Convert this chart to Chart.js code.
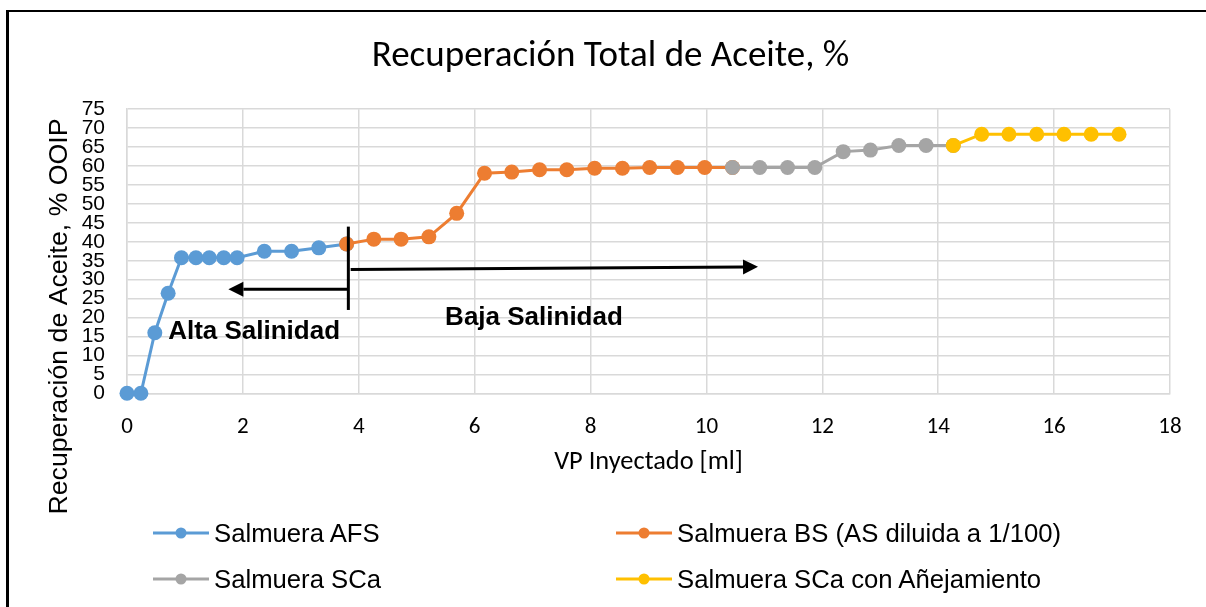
<!DOCTYPE html>
<html><head><meta charset="utf-8">
<script src="https://cdn.jsdelivr.net/npm/chart.js@4.4.0/dist/chart.umd.min.js"></script>
<style>
html,body{margin:0;padding:0;background:#fff;}
#wrap{position:relative;width:1206px;height:607px;overflow:hidden;background:#fff;}
#c{position:absolute;left:0;top:0;}
.leg{position:absolute;display:flex;align-items:center;font-family:"Liberation Sans",Arial,sans-serif;font-size:25.7px;color:#000;white-space:nowrap;height:30px;line-height:30px;}
.leg svg{margin-right:5px;flex:none;}
</style></head>
<body><div id="wrap"><canvas id="c" width="1206" height="607"></canvas><div id="legend"></div></div>
<script>
// ---------- texts ----------
const chartTitle = "Recuperación Total de Aceite, %";
const xAxisTitle = "VP Inyectado [ml]";
const yAxisTitle = "Recuperación de Aceite, % OOIP";
const seriesNames = ["Salmuera AFS", "Salmuera BS (AS diluida a 1/100)", "Salmuera SCa", "Salmuera SCa con Añejamiento"];
const seriesColors = ["#5B9BD5", "#ED7D31", "#A5A5A5", "#FFC000"];

// ---------- data (x = VP inyectado [ml], y = % OOIP) ----------
const afsX = [0, 0.24, 0.48, 0.71, 0.94, 1.19, 1.42, 1.67, 1.90, 2.37, 2.84, 3.31, 3.79];
const afsY = [0, 0, 16.0, 26.4, 35.8, 35.8, 35.8, 35.8, 35.8, 37.5, 37.5, 38.4, 39.4];
const bsX  = [3.79, 4.26, 4.73, 5.21, 5.69, 6.17, 6.64, 7.12, 7.59, 8.07, 8.55, 9.02, 9.50, 9.97, 10.45];
const bsY  = [39.4, 40.7, 40.7, 41.3, 47.5, 58.1, 58.4, 59.0, 59.0, 59.4, 59.4, 59.6, 59.6, 59.6, 59.6];
const scaX = [10.45, 10.92, 11.40, 11.87, 12.36, 12.83, 13.32, 13.79, 14.26];
const scaY = [59.6, 59.6, 59.6, 59.6, 63.8, 64.2, 65.4, 65.4, 65.4];
const agedX = [14.26, 14.75, 15.22, 15.70, 16.17, 16.64, 17.12];
const agedY = [65.4, 68.4, 68.4, 68.4, 68.4, 68.4, 68.4];

const xTickValues = [0, 2, 4, 6, 8, 10, 12, 14, 16, 18];
const yTickValues = [0, 5, 10, 15, 20, 25, 30, 35, 40, 45, 50, 55, 60, 65, 70, 75];

// annotations in data coordinates
const divider = {x: 3.82, y1: 44.0, y2: 22.0};
const arrowLeft = {x1: 3.82, y1: 27.5, x2: 1.75, y2: 27.5};
const arrowRight = {x1: 3.86, y1: 32.7, x2: 10.89, y2: 33.4};
const labelAlta = {text: "Alta Salinidad", x: 0.71, y: 16.2};
const labelBaja = {text: "Baja Salinidad", x: 5.49, y: 19.8};

const seriesX = [afsX, bsX, scaX, agedX];
const seriesY = [afsY, bsY, scaY, agedY];

const CAL = 'Carlito, Lato, sans-serif';
const ARI = '"Liberation Sans", Arial, sans-serif';

const datasets = seriesNames.map((name, i) => ({
  label: name,
  data: seriesX[i].map((x, k) => ({x: x, y: seriesY[i][k]})),
  showLine: true,
  borderColor: seriesColors[i],
  backgroundColor: seriesColors[i],
  pointBackgroundColor: seriesColors[i],
  pointBorderColor: seriesColors[i],
  borderWidth: 3,
  pointRadius: 7.5,
  pointBorderWidth: 0,
  pointHoverRadius: 7.5,
  tension: 0,
  clip: false,
  order: seriesNames.length - i
}));

function drawArrow(ctx, x1, y1, x2, y2) {
  const ang = Math.atan2(y2 - y1, x2 - x1);
  const L = 15, W = 7.5;
  const bx = x2 - L * Math.cos(ang), by = y2 - L * Math.sin(ang);
  ctx.beginPath();
  ctx.moveTo(x1, y1);
  ctx.lineTo(bx, by);
  ctx.stroke();
  ctx.beginPath();
  ctx.moveTo(x2, y2);
  ctx.lineTo(bx + W * Math.sin(ang), by - W * Math.cos(ang));
  ctx.lineTo(bx - W * Math.sin(ang), by + W * Math.cos(ang));
  ctx.closePath();
  ctx.fill();
}

const decor = {
  id: 'decor',
  beforeDraw(chart) {
    const ctx = chart.ctx;
    ctx.save();
    ctx.fillStyle = '#fff';
    ctx.fillRect(0, 0, chart.width, chart.height);
    ctx.fillStyle = '#000';
    ctx.fillRect(6, 10, chart.width - 6, 2);
    ctx.fillRect(6, 10, 3, chart.height - 10);
    ctx.restore();
  },
  afterDatasetsDraw(chart) {
    const ctx = chart.ctx, xs = chart.scales.x, ys = chart.scales.y;
    const px = v => xs.getPixelForValue(v), py = v => ys.getPixelForValue(v);
    ctx.save();
    ctx.strokeStyle = '#000';
    ctx.fillStyle = '#000';
    ctx.lineWidth = 3;
    ctx.beginPath();
    ctx.moveTo(px(divider.x), py(divider.y1));
    ctx.lineTo(px(divider.x), py(divider.y2));
    ctx.stroke();
    drawArrow(ctx, px(arrowLeft.x1), py(arrowLeft.y1), px(arrowLeft.x2), py(arrowLeft.y2));
    drawArrow(ctx, px(arrowRight.x1), py(arrowRight.y1), px(arrowRight.x2), py(arrowRight.y2));
    ctx.font = 'bold 26px ' + ARI;
    ctx.textAlign = 'left';
    ctx.textBaseline = 'middle';
    ctx.fillText(labelAlta.text, px(labelAlta.x), py(labelAlta.y));
    ctx.fillText(labelBaja.text, px(labelBaja.x), py(labelBaja.y));
    ctx.restore();
  },
  afterDraw(chart) {
    const ctx = chart.ctx;
    ctx.save();
    ctx.translate(66.5, 316.5);
    ctx.rotate(-Math.PI / 2);
    ctx.font = '26.7px ' + ARI;
    ctx.fillStyle = '#000';
    ctx.textAlign = 'center';
    ctx.textBaseline = 'alphabetic';
    ctx.fillText(yAxisTitle, 0, 0);
    ctx.restore();
  }
};

const gridColor = '#d9d9d9';

const chart = new Chart(document.getElementById('c'), {
  type: 'scatter',
  data: {datasets: datasets},
  options: {
    responsive: false,
    animation: false,
    events: [],
    layout: {padding: {left: 51, right: 36, top: 0, bottom: 128.3}},
    plugins: {
      legend: {display: false},
      tooltip: {enabled: false},
      title: {
        display: true, text: chartTitle, color: '#000',
        font: {family: CAL, size: 37, weight: 'normal'},
        padding: {top: 35, bottom: 29.8}
      }
    },
    scales: {
      x: {
        type: 'linear', min: 0, max: 18,
        afterBuildTicks: s => { s.ticks = xTickValues.map(v => ({value: v})); },
        afterFit: s => { s.height = 85.4; },
        grid: {color: gridColor, lineWidth: 1.5, drawTicks: false},
        border: {color: gridColor, width: 1.5},
        ticks: {padding: 20, color: '#000', maxRotation: 0, autoSkip: false, font: {family: CAL, size: 23}},
        title: {display: true, text: xAxisTitle, color: '#000', font: {family: CAL, size: 26.4}, padding: {top: 0, bottom: 0}}
      },
      y: {
        type: 'linear', min: 0, max: 75,
        afterBuildTicks: s => { s.ticks = yTickValues.map(v => ({value: v})); },
        afterFit: s => { s.width = 76; },
        grid: {color: gridColor, lineWidth: 1.5, drawTicks: false},
        border: {color: gridColor, width: 1.5},
        ticks: {padding: 22, color: '#000', autoSkip: false, font: {family: ARI, size: 21}}
      }
    }
  },
  plugins: [decor]
});

// HTML legend built from the chart's datasets
const legendPos = [[153, 533], [616, 533], [153, 579], [616, 579]];
const legEl = document.getElementById('legend');
chart.data.datasets.forEach((ds, i) => {
  const d = document.createElement('div');
  d.className = 'leg';
  d.style.left = legendPos[i][0] + 'px';
  d.style.top = (legendPos[i][1] - 15) + 'px';
  const svgNS = 'http://www.w3.org/2000/svg';
  const svg = document.createElementNS(svgNS, 'svg');
  svg.setAttribute('width', '56'); svg.setAttribute('height', '14');
  const ln = document.createElementNS(svgNS, 'line');
  ln.setAttribute('x1', '0'); ln.setAttribute('x2', '56'); ln.setAttribute('y1', '7'); ln.setAttribute('y2', '7');
  ln.setAttribute('stroke', ds.borderColor); ln.setAttribute('stroke-width', '3');
  const c = document.createElementNS(svgNS, 'circle');
  c.setAttribute('cx', '28'); c.setAttribute('cy', '7'); c.setAttribute('r', '5.5');
  c.setAttribute('fill', ds.borderColor);
  svg.appendChild(ln); svg.appendChild(c);
  const t = document.createElement('span');
  t.textContent = ds.label;
  d.appendChild(svg); d.appendChild(t);
  legEl.appendChild(d);
});
</script>
</body></html>
